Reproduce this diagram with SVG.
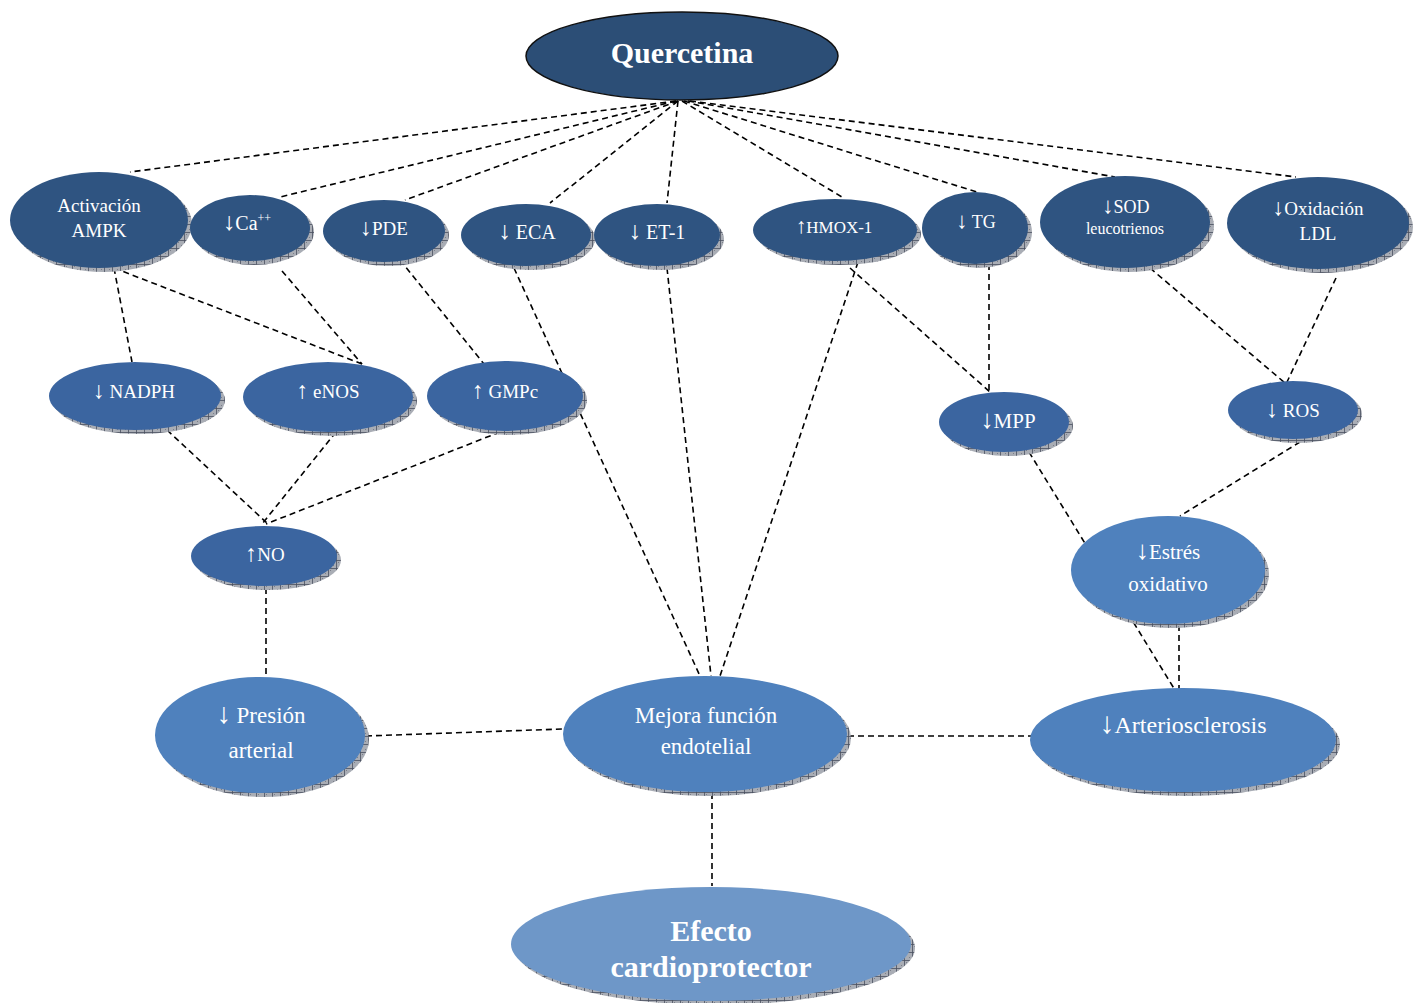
<svg xmlns="http://www.w3.org/2000/svg" width="1420" height="1003" viewBox="0 0 1420 1003">
<style>
.c1{fill:#2f5481}
.c2{fill:#3b65a0}
.c3{fill:#4f81bd}
.c4{fill:#6e97c8}
.sh{fill:url(#hatch)}
text{font-family:"Liberation Serif","Times New Roman",serif;fill:#ffffff;text-anchor:middle}
.ar{font-size:125%}
.conn line{stroke:#000;stroke-width:1.6;stroke-dasharray:6 4;fill:none}
</style>
<defs>
<pattern id="hatch" width="8" height="8" patternUnits="userSpaceOnUse">
<rect width="8" height="8" fill="#a9adb5"/>
<path d="M0 0.5H8M0.5 0V8" stroke="#4a5060" stroke-width="0.8"/>
<path d="M2 2h1v1h-1zM5 5h1v1h-1z" fill="#7a7e88"/>
</pattern>
</defs>
<rect width="1420" height="1003" fill="#ffffff"/>
<g class="conn">
<line x1="676" y1="101" x2="130" y2="172"/>
<line x1="676" y1="101" x2="280" y2="197"/>
<line x1="678" y1="101" x2="405" y2="200"/>
<line x1="678" y1="101" x2="550" y2="203"/>
<line x1="678" y1="101" x2="667" y2="203"/>
<line x1="682" y1="101" x2="842" y2="197"/>
<line x1="684" y1="101" x2="980" y2="193"/>
<line x1="688" y1="101" x2="1115" y2="177"/>
<line x1="690" y1="101" x2="1296" y2="177"/>
<line x1="114" y1="268" x2="132" y2="362"/>
<line x1="114" y1="268" x2="362" y2="364"/>
<line x1="282" y1="271" x2="362" y2="364"/>
<line x1="400" y1="260" x2="484" y2="364"/>
<line x1="514" y1="268" x2="700" y2="676"/>
<line x1="667" y1="268" x2="711" y2="676"/>
<line x1="858" y1="262" x2="720" y2="676"/>
<line x1="850" y1="268" x2="990" y2="392"/>
<line x1="989" y1="264" x2="989" y2="392"/>
<line x1="1150" y1="268" x2="1285" y2="383"/>
<line x1="1336" y1="278" x2="1287" y2="382"/>
<line x1="167" y1="430" x2="268" y2="524"/>
<line x1="336" y1="432" x2="262" y2="524"/>
<line x1="500" y1="432" x2="266" y2="524"/>
<line x1="266" y1="588" x2="266" y2="677"/>
<line x1="1029" y1="452" x2="1178" y2="695"/>
<line x1="1300" y1="442" x2="1180" y2="516"/>
<line x1="1179" y1="625" x2="1179" y2="692"/>
<line x1="366" y1="736" x2="562" y2="729"/>
<line x1="848" y1="736" x2="1035" y2="736"/>
<line x1="712" y1="793" x2="712" y2="886"/>
</g>
<g id="quercetina">
<ellipse cx="682" cy="56" rx="156" ry="44" fill="#2c4e76" stroke="#111" stroke-width="1.5"/>
<text x="682" y="63" font-size="30" font-weight="bold">Quercetina</text>
</g>
<g id="ampk">
<ellipse class="sh" cx="103" cy="224" rx="89" ry="48"/>
<ellipse class="c1" cx="99" cy="220" rx="89" ry="48"/>
<text x="99" y="212" font-size="19">Activación</text>
<text x="99" y="237" font-size="19">AMPK</text>
</g>
<g id="ca">
<ellipse class="sh" cx="254" cy="232" rx="60" ry="33"/>
<ellipse class="c1" cx="250" cy="228" rx="60" ry="33"/>
<text x="247" y="230" font-size="20"><tspan class="ar">↓</tspan>Ca<tspan font-size="12" dy="-8">++</tspan></text>
</g>
<g id="pde">
<ellipse class="sh" cx="388" cy="235" rx="61" ry="31"/>
<ellipse class="c1" cx="384" cy="231" rx="61" ry="31"/>
<text x="384" y="235" font-size="19"><tspan class="ar">↓</tspan>PDE</text>
</g>
<g id="eca">
<ellipse class="sh" cx="530" cy="239" rx="65" ry="31"/>
<ellipse class="c1" cx="526" cy="235" rx="65" ry="31"/>
<text x="527" y="239" font-size="20"><tspan class="ar">↓</tspan> ECA</text>
</g>
<g id="et1">
<ellipse class="sh" cx="661" cy="239" rx="63" ry="31"/>
<ellipse class="c1" cx="657" cy="235" rx="63" ry="31"/>
<text x="657" y="239" font-size="20"><tspan class="ar">↓</tspan> ET-1</text>
</g>
<g id="hmox">
<ellipse class="sh" cx="839" cy="234" rx="82" ry="31"/>
<ellipse class="c1" cx="835" cy="230" rx="82" ry="31"/>
<text x="834" y="233" font-size="17"><tspan class="ar">↑</tspan>HMOX-1</text>
</g>
<g id="tg">
<ellipse class="sh" cx="979" cy="232" rx="53" ry="36"/>
<ellipse class="c1" cx="975" cy="228" rx="53" ry="36"/>
<text x="976" y="228" font-size="18"><tspan class="ar">↓</tspan> TG</text>
</g>
<g id="sod">
<ellipse class="sh" cx="1129" cy="226" rx="85" ry="46"/>
<ellipse class="c1" cx="1125" cy="222" rx="85" ry="46"/>
<text x="1126" y="213" font-size="18"><tspan class="ar">↓</tspan>SOD</text>
<text x="1125" y="234" font-size="16">leucotrienos</text>
</g>
<g id="ldl">
<ellipse class="sh" cx="1322" cy="227" rx="91" ry="46"/>
<ellipse class="c1" cx="1318" cy="223" rx="91" ry="46"/>
<text x="1318" y="215" font-size="19"><tspan class="ar">↓</tspan>Oxidación</text>
<text x="1318" y="240" font-size="19">LDL</text>
</g>
<g id="nadph">
<ellipse class="sh" cx="139" cy="400" rx="86" ry="34"/>
<ellipse class="c2" cx="135" cy="396" rx="86" ry="34"/>
<text x="134" y="398" font-size="19"><tspan class="ar">↓</tspan> NADPH</text>
</g>
<g id="enos">
<ellipse class="sh" cx="332" cy="401" rx="85" ry="35"/>
<ellipse class="c2" cx="328" cy="397" rx="85" ry="35"/>
<text x="328" y="398" font-size="19"><tspan class="ar">↑</tspan> eNOS</text>
</g>
<g id="gmpc">
<ellipse class="sh" cx="509" cy="400" rx="78" ry="35"/>
<ellipse class="c2" cx="505" cy="396" rx="78" ry="35"/>
<text x="505" y="398" font-size="19"><tspan class="ar">↑</tspan> GMPc</text>
</g>
<g id="mpp">
<ellipse class="sh" cx="1008" cy="426" rx="65" ry="30"/>
<ellipse class="c2" cx="1004" cy="422" rx="65" ry="30"/>
<text x="1008" y="428" font-size="21"><tspan class="ar">↓</tspan>MPP</text>
</g>
<g id="ros">
<ellipse class="sh" cx="1297" cy="414" rx="65" ry="29"/>
<ellipse class="c2" cx="1293" cy="410" rx="65" ry="29"/>
<text x="1293" y="417" font-size="19"><tspan class="ar">↓</tspan> ROS</text>
</g>
<g id="no">
<ellipse class="sh" cx="268" cy="560" rx="73" ry="30"/>
<ellipse class="c2" cx="264" cy="556" rx="73" ry="30"/>
<text x="265" y="561" font-size="19"><tspan class="ar">↑</tspan>NO</text>
</g>
<g id="estres">
<ellipse class="sh" cx="1172" cy="574" rx="97" ry="54"/>
<ellipse class="c3" cx="1168" cy="570" rx="97" ry="54"/>
<text x="1168" y="559" font-size="21"><tspan class="ar">↓</tspan>Estrés</text>
<text x="1168" y="591" font-size="21">oxidativo</text>
</g>
<g id="presion">
<ellipse class="sh" cx="264" cy="739" rx="105" ry="58"/>
<ellipse class="c3" cx="260" cy="735" rx="105" ry="58"/>
<text x="261" y="723" font-size="23"><tspan class="ar">↓</tspan> Presión</text>
<text x="261" y="758" font-size="23">arterial</text>
</g>
<g id="mejora">
<ellipse class="sh" cx="709" cy="738" rx="142" ry="58"/>
<ellipse class="c3" cx="705" cy="734" rx="142" ry="58"/>
<text x="706" y="723" font-size="23">Mejora función</text>
<text x="706" y="754" font-size="23">endotelial</text>
</g>
<g id="arterio">
<ellipse class="sh" cx="1187" cy="744" rx="153" ry="52"/>
<ellipse class="c3" cx="1183" cy="740" rx="153" ry="52"/>
<text x="1183" y="733" font-size="24"><tspan class="ar">↓</tspan>Arteriosclerosis</text>
</g>
<g id="efecto">
<ellipse class="sh" cx="715" cy="948" rx="200" ry="57"/>
<ellipse class="c4" cx="711" cy="944" rx="200" ry="57"/>
<text x="711" y="941" font-size="30" font-weight="bold">Efecto</text>
<text x="711" y="977" font-size="30" font-weight="bold">cardioprotector</text>
</g>
</svg>
